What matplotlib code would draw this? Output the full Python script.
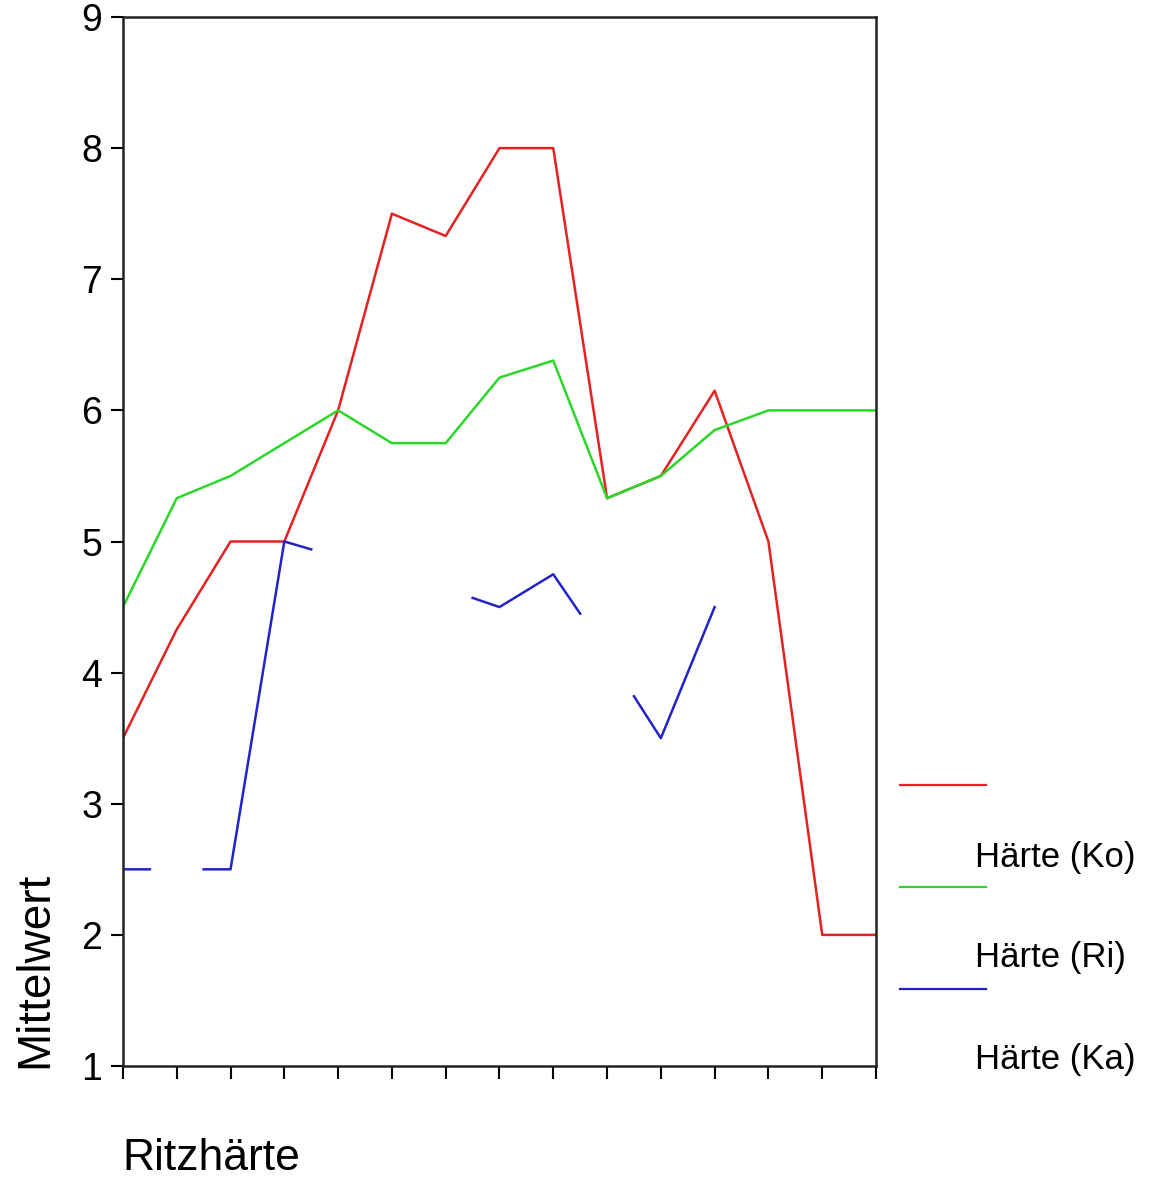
import numpy as np
import matplotlib
matplotlib.use("Agg")
import matplotlib.pyplot as plt
from matplotlib.lines import Line2D

plt.rcParams['font.family'] = ['Liberation Sans', 'DejaVu Sans']

# Mittelwerte je Ritzhaerte-Kategorie (15 Kategorien, ohne Beschriftung)
x = np.arange(15)
haerte_ko = [3.5, 4.33, 5.0, 5.0, 6.0, 7.5, 7.33, 8.0, 8.0, 5.33, 5.5, 6.15, 5.0, 2.0, 2.0]
haerte_ri = [4.5, 5.33, 5.5, 5.75, 6.0, 5.75, 5.75, 6.25, 6.38, 5.33, 5.5, 5.85, 6.0, 6.0, 6.0]

ka_x = [0, 0.5, np.nan, 1.5, 2, 3, 3.5, np.nan, 6.5, 7, 8, 8.5, np.nan, 9.5, 10, 11]
ka_y = [2.5, 2.5, np.nan, 2.5, 2.5, 5.0, 4.94, np.nan, 4.57, 4.5, 4.75, 4.45, np.nan, 3.82, 3.5, 4.5]

labels = ["Härte (Ko)", "Härte (Ri)", "Härte (Ka)"]
farben = ["#e52222", "#2ad82a", "#2323c8"]

fig = plt.figure(figsize=(11.49, 11.80), dpi=100)
ax = fig.add_axes([0.107, 0.0966, 0.6554, 0.889])

ax.plot(x, haerte_ko, color=farben[0], lw=1.8)
ax.plot(x, haerte_ri, color=farben[1], lw=1.8)
ax.plot(ka_x, ka_y, color=farben[2], lw=1.8)

ax.set_xlim(0, 14)
ax.set_ylim(1, 9)
ax.set_xticks(x)
ax.set_xticklabels([])
ax.set_yticks(range(1, 10))
ax.tick_params(axis='y', labelsize=27, length=9, width=1.5, direction='out', pad=6)
ax.tick_params(axis='x', length=9, width=1.5, direction='out')
for s in ax.spines.values():
    s.set_linewidth(1.8)
    s.set_color('#222222')

fig.text(35 / 1149, 1 - 1068 / 1180, "Mittelwert", rotation=90, fontsize=33,
         ha='center', va='bottom')
fig.text(122 / 1149, 1 - 1170 / 1180, "Ritzhärte", fontsize=32,
         ha='left', va='baseline')

# Legende rechts: Linie oben, Text darunter
linie_y = [785, 887, 989]
text_y = [867, 967, 1069]
for lab, f, ly, ty in zip(labels, farben, linie_y, text_y):
    fig.add_artist(Line2D([900 / 1149, 986 / 1149], [1 - ly / 1180, 1 - ly / 1180],
                          color=f, lw=1.6, transform=fig.transFigure))
    fig.text(975 / 1149, 1 - ty / 1180, lab, fontsize=25, ha='left', va='baseline')

fig.savefig("out.png", dpi=100)
